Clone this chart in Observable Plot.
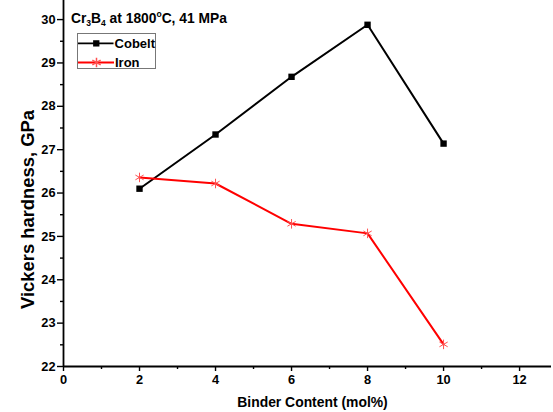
<!DOCTYPE html>
<html>
<head>
<meta charset="utf-8">
<script src="https://cdn.jsdelivr.net/npm/d3@7"></script>
<script src="https://cdn.jsdelivr.net/npm/@observablehq/plot@0.6"></script>
<style>
  html, body { margin: 0; padding: 0; background: #fff; }
  #wrap { position: relative; width: 553px; height: 412px; font-family: "Liberation Sans", Arial, sans-serif; }
  #title { position: absolute; left: 71px; top: 11px; font-weight: bold; font-size: 13.8px; color: #000; white-space: nowrap; }
  #title sub { font-size: 8.5px; vertical-align: -3px; line-height: 0; }
  #title sup { font-size: 8.5px; vertical-align: 6px; line-height: 0; }
  #legend { position: absolute; left: 77px; top: 33px; width: 79px; height: 36px; border: 1px solid #777; background: #fff; box-sizing: border-box; }
  #legend .row { position: absolute; left: 0px; height: 18px; display: flex; align-items: center; font-weight: bold; font-size: 13px; }
  #legend svg { display: block; }
</style>
</head>
<body>
<div id="wrap">
  <div id="chart"></div>
  <div id="title">Cr<sub>3</sub>B<sub>4</sub> at 1800<sup>o</sup>C, 41 MPa</div>
  <div id="legend"></div>
</div>
<script>
const binder = [2, 4, 6, 8, 10];
const cobelt = [26.10, 27.35, 28.68, 29.88, 27.14];
const iron = [26.36, 26.22, 25.29, 25.07, 22.51];
const seriesNames = ["Cobelt", "Iron"];
const seriesColors = ["#000000", "#ff0000"];
const xMajor = [0, 2, 4, 6, 8, 10, 12];
const xMinor = [1, 3, 5, 7, 9, 11];
const yMajor = [22, 23, 24, 25, 26, 27, 28, 29, 30];
const yMinor = [22.5, 23.5, 24.5, 25.5, 26.5, 27.5, 28.5, 29.5];

const cobeltData = binder.map((x, i) => ({x, y: cobelt[i]}));
const ironData = binder.map((x, i) => ({x, y: iron[i]}));

const chart = Plot.plot({
  width: 553,
  height: 412,
  marginLeft: 63,
  marginRight: 2,
  marginTop: 0,
  marginBottom: 46,
  style: {fontFamily: "'Liberation Sans', Arial, sans-serif", fontWeight: "bold", fontSize: "12.8px", color: "#000", background: "#fff"},
  x: {domain: [0, 12.84]},
  y: {domain: [22, 30.44]},
  marks: [
    Plot.axisX(xMajor, {tickSize: 5, tickPadding: 3, tickFormat: d => d, label: null, strokeWidth: 1.4}),
    Plot.axisX(xMinor, {tickSize: 3, tickFormat: () => "", label: null, strokeWidth: 1.4}),
    Plot.axisY(yMajor, {tickSize: 6, tickPadding: 2, tickFormat: d => d, label: null, strokeWidth: 1.4}),
    Plot.axisY(yMinor, {tickSize: 3, tickFormat: () => "", label: null, strokeWidth: 1.4}),
    Plot.ruleY([22], {strokeWidth: 1.8}),
    Plot.ruleX([0], {strokeWidth: 1.8}),
    Plot.line(cobeltData, {x: "x", y: "y", stroke: seriesColors[0], strokeWidth: 2}),
    Plot.line(ironData, {x: "x", y: "y", stroke: seriesColors[1], strokeWidth: 2}),
    Plot.dot(cobeltData, {x: "x", y: "y", symbol: "square", fill: "#000", r: 3.6}),
    Plot.dot(ironData, {x: "x", y: "y", symbol: "asterisk", stroke: "#ff5050", strokeWidth: 1, r: 4.5}),
    Plot.text(["Binder Content (mol%)"], {frameAnchor: "bottom", textAnchor: "middle", dx: 5, dy: 40, fontSize: 13.9, fontWeight: "bold"}),
    Plot.text(["Vickers hardness, GPa"], {frameAnchor: "left", textAnchor: "middle", dx: -35.5, dy: 26, rotate: -90, fontSize: 18.4, fontWeight: "bold"})
  ]
});
document.getElementById("chart").appendChild(chart);

// legend
const legend = document.getElementById("legend");
const symbols = ["square", "asterisk"];
seriesNames.forEach((name, i) => {
  const row = document.createElement("div");
  row.className = "row";
  row.style.top = (i === 0 ? 0 : 19) + "px";
  const sw = Plot.plot({
    width: 36, height: 18, margin: 0,
    x: {domain: [0, 1], axis: null}, y: {domain: [0, 1], axis: null},
    style: {background: "transparent"},
    marks: [
      Plot.ruleY([0.5], {x1: 0, x2: 1, stroke: seriesColors[i], strokeWidth: 2}),
      Plot.dot([0.5], {x: d => d, y: () => 0.5, symbol: symbols[i],
        fill: i === 0 ? "#000" : "none", stroke: i === 0 ? "none" : "#ff5050", r: i === 0 ? 3.6 : 4.5})
    ]
  });
  row.appendChild(sw);
  const t = document.createElement("span");
  t.textContent = name;
  t.style.marginLeft = "1px";
  row.appendChild(t);
  legend.appendChild(row);
});
</script>
</body>
</html>
